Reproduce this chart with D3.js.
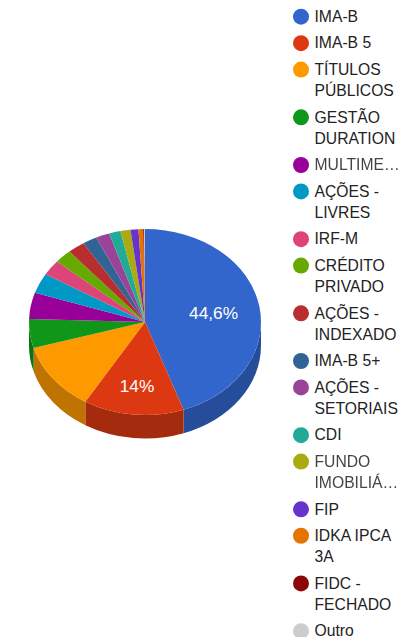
<!DOCTYPE html>
<html>
<head>
<meta charset="utf-8">
<script src="https://d3js.org/d3.v7.min.js"></script>
<style>
  html, body { margin: 0; padding: 0; background: #fff; overflow: hidden; }
  svg { display: block; }
</style>
</head>
<body>
<svg id="chart" width="403" height="637"></svg>
<script>
var categories = ["IMA-B", "IMA-B 5", "TÍTULOS PÚBLICOS", "GESTÃO DURATION", "MULTIMERCADO", "AÇÕES - LIVRES", "IRF-M",
  "CRÉDITO PRIVADO", "AÇÕES - INDEXADO", "IMA-B 5+", "AÇÕES - SETORIAIS", "CDI", "FUNDO IMOBILIÁRIO", "FIP",
  "IDKA IPCA 3A", "FIDC - FECHADO", "Outro"];
var legendLines = [["IMA-B"], ["IMA-B 5"], ["TÍTULOS", "PÚBLICOS"], ["GESTÃO", "DURATION"], ["MULTIME…"], ["AÇÕES -", "LIVRES"], ["IRF-M"],
  ["CRÉDITO", "PRIVADO"], ["AÇÕES -", "INDEXADO"], ["IMA-B 5+"], ["AÇÕES -", "SETORIAIS"], ["CDI"], ["FUNDO", "IMOBILIÁ…"], ["FIP"],
  ["IDKA IPCA", "3A"], ["FIDC -", "FECHADO"], ["Outro"]];
var values = [44.6, 14, 11.9, 5.0, 4.6, 3.5, 2.7, 2.4, 2.4, 2.0, 1.9, 1.6, 1.4, 1.1, 0.65, 0.15, 0.1];
var colors = ["#3366cc", "#dc3912", "#ff9900", "#109618", "#990099", "#0099c6", "#dd4477", "#66aa00", "#b82e2e",
  "#316395", "#994499", "#22aa99", "#aaaa11", "#6633cc", "#e67300", "#8b0707", "#cccccc"];
var sliceLabels = ["44,6%", "14%"];
var labelRadius = [0.6, 0.69];
var blurred = ["MULTIMERCADO", "FUNDO IMOBILIÁRIO"];

//Dimension-related vars
var cx = 145;
var cy = 322;
var rx = 116;
var ry = 93;
var depth = 23.5;
var squash = ry / rx;

var svg = d3.select('#chart');

var pie = d3.pie().sort(null).value(function(d) { return d; });
var arcs = pie(values);
var arc = d3.arc().innerRadius(0).outerRadius(rx);

var pieGroup = svg.append('g')
  .attr('transform', 'translate(' + cx + ',' + cy + ') scale(1,' + squash + ')');

//Side wall, only the front half of the pie shows it
function sidePath(d) {
  var a0 = Math.max(d.startAngle, Math.PI / 2) - Math.PI / 2;
  var a1 = Math.min(d.endAngle, Math.PI * 1.5) - Math.PI / 2;
  if (a1 <= a0) return null;
  var drop = depth / squash;
  var p = d3.path();
  p.arc(0, 0, rx, a0, a1);
  p.arc(0, drop, rx, a1, a0, true);
  p.closePath();
  return p.toString();
}

pieGroup.selectAll('path.side')
  .data(arcs)
  .enter()
  .append('path')
  .attr('class', 'side')
  .attr('d', sidePath)
  .style('fill', function(d, i) {
    var c = d3.rgb(colors[i]);
    return d3.rgb(c.r * 0.75, c.g * 0.75, c.b * 0.75).formatHex();
  })
  .style('stroke', 'none');

//Top face
pieGroup.selectAll('path.slice')
  .data(arcs)
  .enter()
  .append('path')
  .attr('class', 'slice')
  .attr('d', arc)
  .style('fill', function(d, i) { return colors[i]; });

//Slice labels
svg.selectAll('text.sliceLabel')
  .data(sliceLabels)
  .enter()
  .append('text')
  .attr('class', 'sliceLabel')
  .attr('x', function(d, i) {
    var mid = (arcs[i].startAngle + arcs[i].endAngle) / 2;
    return cx + Math.sin(mid) * rx * labelRadius[i];
  })
  .attr('y', function(d, i) {
    var mid = (arcs[i].startAngle + arcs[i].endAngle) / 2;
    return cy - Math.cos(mid) * ry * labelRadius[i] + 6;
  })
  .attr('text-anchor', 'middle')
  .attr('font-family', 'Liberation Sans')
  .attr('font-size', 17.3)
  .style('fill', '#fff')
  .text(function(d) { return d; });

//Legend
var legendX = 301;
var textX = 314.5;
var legendY = 16.7;
var itemGap = 26.45;
var lineGap = 21.25;

var y = legendY;
categories.forEach(function(name, i) {
  svg.append('circle')
    .attr('cx', legendX)
    .attr('cy', y)
    .attr('r', 8)
    .style('fill', colors[i]);

  var isBlurred = blurred.indexOf(name) >= 0;
  legendLines[i].forEach(function(line, j) {
    svg.append('text')
      .attr('x', textX)
      .attr('y', y + j * lineGap + 5.3)
      .attr('font-family', 'Liberation Sans')
      .attr('font-size', 15.7)
      .style('fill', isBlurred ? '#444' : '#222')
      .style('filter', isBlurred ? 'blur(0.6px)' : null)
      .text(line);
  });
  y += (legendLines[i].length - 1) * lineGap + itemGap;
});
</script>
</body>
</html>
